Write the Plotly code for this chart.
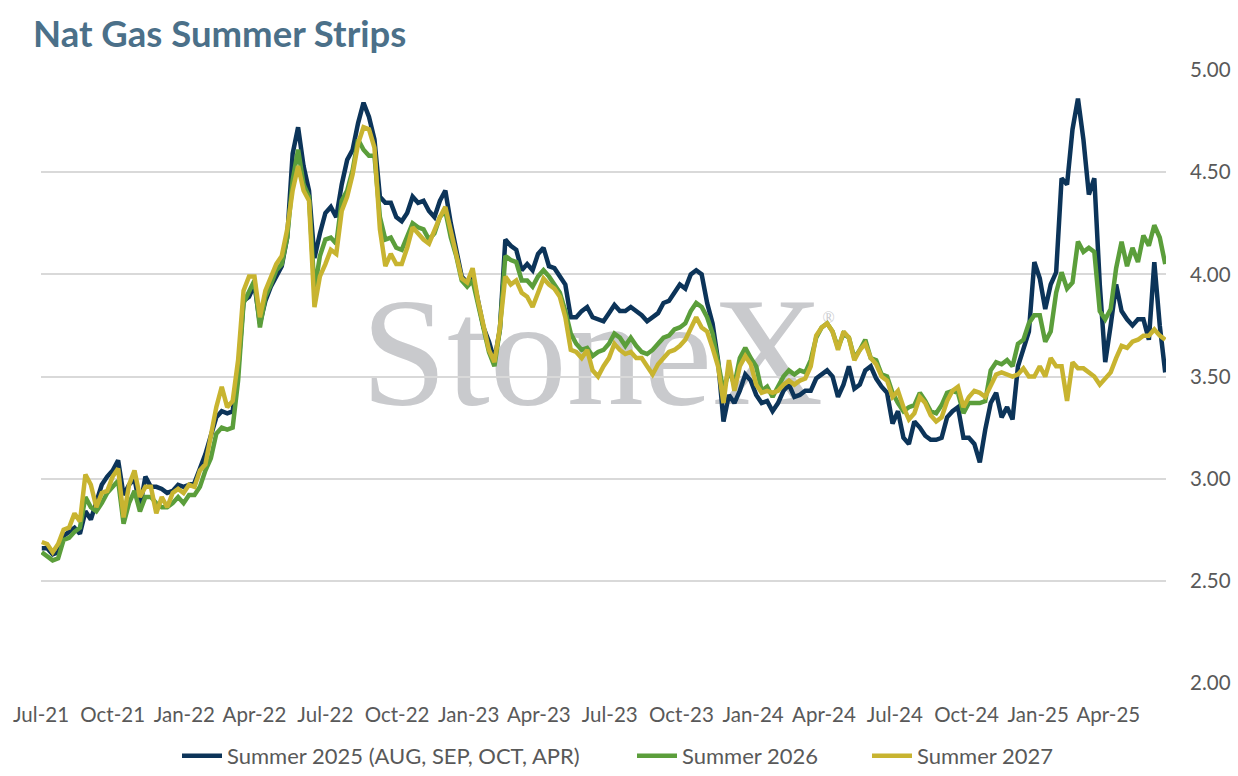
import pandas as pd
import plotly.graph_objects as go

# weekly observation dates (Fridays) Jul-2021 .. Jun-2025
dates = pd.date_range("2021-07-02", periods=207, freq="7D")

summer_2025 = [
    2.66, 2.66, 2.63, 2.64, 2.72, 2.74, 2.76, 2.73, 2.84, 2.80,
    2.89, 2.97, 3.01, 3.04, 3.09, 2.92, 2.97, 3.00, 2.86, 3.01,
    2.96, 2.96, 2.95, 2.93, 2.94, 2.97, 2.96, 2.97, 2.98, 3.05,
    3.12, 3.21, 3.30, 3.33, 3.32, 3.33, 3.53, 3.87, 3.89,
    3.95, 3.76, 3.87, 3.94, 3.99, 4.04, 4.18, 4.59, 4.72, 4.53, 4.41,
    4.08, 4.20, 4.30, 4.33, 4.28, 4.44, 4.56, 4.61, 4.74, 4.84,
    4.77, 4.66, 4.38, 4.35, 4.35, 4.28, 4.26, 4.30, 4.38, 4.35,
    4.36, 4.31, 4.28, 4.36, 4.41, 4.25, 4.13,
    3.99, 3.96, 4.00, 3.87, 3.74, 3.67, 3.58, 3.73, 4.17, 4.14,
    4.12, 4.02, 4.05, 4.02, 4.10, 4.13, 4.04, 4.03, 3.99, 3.95,
    3.79, 3.79, 3.82, 3.84, 3.79, 3.78, 3.77, 3.81, 3.85, 3.82,
    3.82, 3.84, 3.82, 3.80, 3.77, 3.79, 3.81, 3.86,
    3.87, 3.91, 3.95, 3.93, 4.00, 4.02, 4.00, 3.86, 3.76, 3.58,
    3.28, 3.41, 3.37, 3.43, 3.51, 3.48, 3.41, 3.37, 3.38, 3.33,
    3.37, 3.43, 3.46, 3.40, 3.41, 3.43, 3.43, 3.49, 3.51, 3.53,
    3.50, 3.40, 3.46, 3.55, 3.44, 3.46, 3.53, 3.55,
    3.49, 3.45, 3.42, 3.27, 3.33, 3.20, 3.17, 3.28, 3.25, 3.21,
    3.19, 3.19, 3.20, 3.30, 3.33, 3.35, 3.20, 3.20, 3.17, 3.08,
    3.24, 3.37, 3.42, 3.30, 3.35, 3.29, 3.55, 3.64, 3.72,
    4.06, 3.98, 3.83, 3.95, 4.01, 4.47, 4.44, 4.71, 4.86, 4.66,
    4.39, 4.47, 3.95, 3.57, 3.75, 3.95, 3.82, 3.78, 3.75, 3.78,
    3.78, 3.68, 4.06, 3.75, 3.52,
]

summer_2026 = [
    2.64, 2.62, 2.60, 2.61, 2.70, 2.71, 2.74, 2.76, 2.91, 2.86,
    2.84, 2.88, 2.93, 2.96, 2.99, 2.78, 2.88, 2.94, 2.84, 2.91,
    2.91, 2.88, 2.86, 2.86, 2.88, 2.91, 2.88, 2.92, 2.92, 2.96,
    3.04, 3.10, 3.22, 3.25, 3.24, 3.25, 3.48, 3.86, 3.91,
    3.97, 3.74, 3.89, 3.95, 4.02, 4.05, 4.18, 4.46, 4.61, 4.44, 4.38,
    3.92, 4.09, 4.17, 4.18, 4.15, 4.36, 4.41, 4.51, 4.66, 4.61,
    4.58, 4.58, 4.28, 4.17, 4.18, 4.13, 4.12, 4.18, 4.25, 4.23,
    4.22, 4.17, 4.20, 4.28, 4.31, 4.18, 4.09,
    3.97, 3.94, 3.97, 3.86, 3.73, 3.62, 3.55, 3.73, 4.09, 4.07,
    4.06, 3.97, 3.97, 3.94, 3.99, 4.02, 3.99, 3.95, 3.91, 3.82,
    3.71, 3.66, 3.63, 3.64, 3.60, 3.62, 3.63, 3.66, 3.71, 3.69,
    3.65, 3.69, 3.65, 3.62, 3.61, 3.63, 3.66, 3.69,
    3.70, 3.73, 3.74, 3.76, 3.82, 3.86, 3.84, 3.79, 3.71, 3.56,
    3.43, 3.53, 3.46, 3.59, 3.64, 3.59, 3.55, 3.43, 3.45, 3.40,
    3.45, 3.50, 3.53, 3.51, 3.53, 3.52, 3.58, 3.69, 3.74, 3.76,
    3.72, 3.64, 3.71, 3.69, 3.59, 3.63, 3.68, 3.59,
    3.58, 3.51, 3.50, 3.42, 3.37, 3.33, 3.35, 3.36, 3.42, 3.38,
    3.33, 3.32, 3.36, 3.42, 3.43, 3.42, 3.32, 3.37, 3.37, 3.37,
    3.38, 3.53, 3.57, 3.56, 3.58, 3.55, 3.66, 3.68, 3.76,
    3.80, 3.80, 3.67, 3.72, 3.91, 4.01, 3.93, 3.96, 4.16, 4.11,
    4.13, 4.11, 3.82, 3.78, 3.83, 4.03, 4.16, 4.04, 4.13, 4.06,
    4.19, 4.14, 4.24, 4.18, 4.05,
]

summer_2027 = [
    2.69, 2.68, 2.64, 2.68, 2.75, 2.76, 2.83, 2.79, 3.02, 2.97,
    2.86, 2.93, 2.94, 3.01, 3.05, 2.81, 2.97, 3.04, 2.91, 2.96,
    2.96, 2.83, 2.91, 2.86, 2.93, 2.95, 2.93, 2.97, 2.96, 3.04,
    3.07, 3.22, 3.35, 3.45, 3.35, 3.38, 3.58, 3.92, 3.99,
    3.99, 3.79, 3.92, 3.99, 4.05, 4.09, 4.22, 4.41, 4.53, 4.41, 4.36,
    3.84, 3.99, 4.05, 4.12, 4.10, 4.31, 4.38, 4.49, 4.64, 4.72,
    4.71, 4.62, 4.22, 4.04, 4.10, 4.05, 4.05, 4.13, 4.23, 4.20,
    4.17, 4.15, 4.22, 4.28, 4.33, 4.22, 4.09,
    3.98, 3.96, 4.03, 3.87, 3.74, 3.63, 3.57, 3.74, 3.99, 3.95,
    3.97, 3.91, 3.89, 3.84, 3.91, 3.98, 3.95, 3.93, 3.89, 3.79,
    3.63, 3.62, 3.59, 3.63, 3.53, 3.50, 3.55, 3.59, 3.66, 3.63,
    3.61, 3.62, 3.59, 3.59, 3.55, 3.51, 3.56, 3.59,
    3.62, 3.63, 3.65, 3.68, 3.74, 3.79, 3.74, 3.72, 3.64, 3.55,
    3.37, 3.58, 3.43, 3.55, 3.60, 3.56, 3.46, 3.42, 3.43, 3.42,
    3.43, 3.46, 3.48, 3.46, 3.48, 3.49, 3.55, 3.70, 3.74, 3.76,
    3.72, 3.63, 3.72, 3.69, 3.58, 3.63, 3.66, 3.59,
    3.56, 3.50, 3.48, 3.40, 3.43, 3.35, 3.29, 3.32, 3.40, 3.37,
    3.31, 3.28, 3.30, 3.38, 3.43, 3.45, 3.35, 3.40, 3.43, 3.42,
    3.40, 3.46, 3.51, 3.52, 3.51, 3.50, 3.51, 3.54, 3.50,
    3.50, 3.55, 3.50, 3.59, 3.55, 3.55, 3.38, 3.57, 3.54, 3.54,
    3.52, 3.50, 3.46, 3.49, 3.52, 3.59, 3.65, 3.64, 3.67, 3.68,
    3.70, 3.70, 3.73, 3.70, 3.68,
]

series_names = ["Summer 2025 (AUG, SEP, OCT, APR)", "Summer 2026", "Summer 2027"]
series_colors = ["#0c3459", "#5b9e3b", "#c8b430"]

tick_dates = ["2021-07-01", "2021-10-01", "2022-01-01", "2022-04-01", "2022-07-01",
              "2022-10-01", "2023-01-01", "2023-04-01", "2023-07-01", "2023-10-01",
              "2024-01-01", "2024-04-01", "2024-07-01", "2024-10-01", "2025-01-01",
              "2025-04-01"]
tick_labels = ["Jul-21", "Oct-21", "Jan-22", "Apr-22", "Jul-22", "Oct-22", "Jan-23",
               "Apr-23", "Jul-23", "Oct-23", "Jan-24", "Apr-24", "Jul-24", "Oct-24",
               "Jan-25", "Apr-25"]
y_ticks = [2.0, 2.5, 3.0, 3.5, 4.0, 4.5, 5.0]

legend_ids = ["legend", "legend2", "legend3"]
legend_left_px = [177, 632, 867]

fig = go.Figure()
for name, vals, col, lg in zip(series_names, [summer_2025, summer_2026, summer_2027],
                               series_colors, legend_ids):
    fig.add_trace(go.Scatter(
        x=dates[:len(vals)], y=vals, mode="lines", name=name, legend=lg,
        showlegend=True, line=dict(color=col, width=4.5), hoverinfo="skip",
    ))

tick_font = dict(family="Lato", size=20.5, color="#595959")
legend_font = dict(family="Lato", size=22, color="#595959")


def legend_box(left_px):
    return dict(orientation="h", x=left_px / 1238, xref="container", xanchor="left",
                y=1 - 756 / 776, yref="container", yanchor="middle",
                font=legend_font, itemwidth=40, bgcolor="rgba(0,0,0,0)")


fig.update_layout(
    width=1238, height=776,
    showlegend=True,
    margin=dict(l=41, r=72, t=70, b=93, autoexpand=False),
    paper_bgcolor="white", plot_bgcolor="white",
    title=dict(text="<b>Nat Gas Summer Strips</b>", x=33 / 1238, xref="container",
               xanchor="left", y=1 - 34 / 776, yref="container", yanchor="middle",
               font=dict(family="Lato", size=36.5, color="#4b7089")),
    xaxis=dict(type="date", range=["2021-07-01", "2025-06-14"],
               tickvals=tick_dates, ticktext=tick_labels, showgrid=False,
               showline=False, zeroline=False, ticks="outside", ticklen=13,
               tickcolor="rgba(0,0,0,0)", tickfont=tick_font, automargin=False),
    yaxis=dict(side="right", range=[2.0, 5.0], tickvals=y_ticks,
               tickformat=".2f", showgrid=True, gridcolor="#d9d9d9", gridwidth=1.5,
               zeroline=False, showline=False, ticks="outside", ticklen=19,
               tickcolor="rgba(0,0,0,0)", tickfont=tick_font, automargin=False),
    legend=legend_box(legend_left_px[0]),
    legend2=legend_box(legend_left_px[1]),
    legend3=legend_box(legend_left_px[2]),
    shapes=[
        dict(type="rect", xref="paper", yref="paper", x0=0.295, x1=0.685, y0=0.497, y1=0.637,
             line=dict(width=0), fillcolor="rgba(0,0,0,0)", layer="below",
             label=dict(text="StoneX", textposition="middle center",
                        font=dict(family="Liberation Serif", size=154, color="#c9cacd"))),
        dict(type="rect", xref="paper", yref="paper", x0=0.690, x1=0.710, y0=0.579, y1=0.619,
             line=dict(width=0), fillcolor="rgba(0,0,0,0)", layer="below",
             label=dict(text="®", textposition="middle center",
                        font=dict(family="Liberation Serif", size=16, color="#c9cacd"))),
    ],
)

fig.write_html("out.html", config={"displayModeBar": False},
               post_script="document.body.style.margin='0px';")
